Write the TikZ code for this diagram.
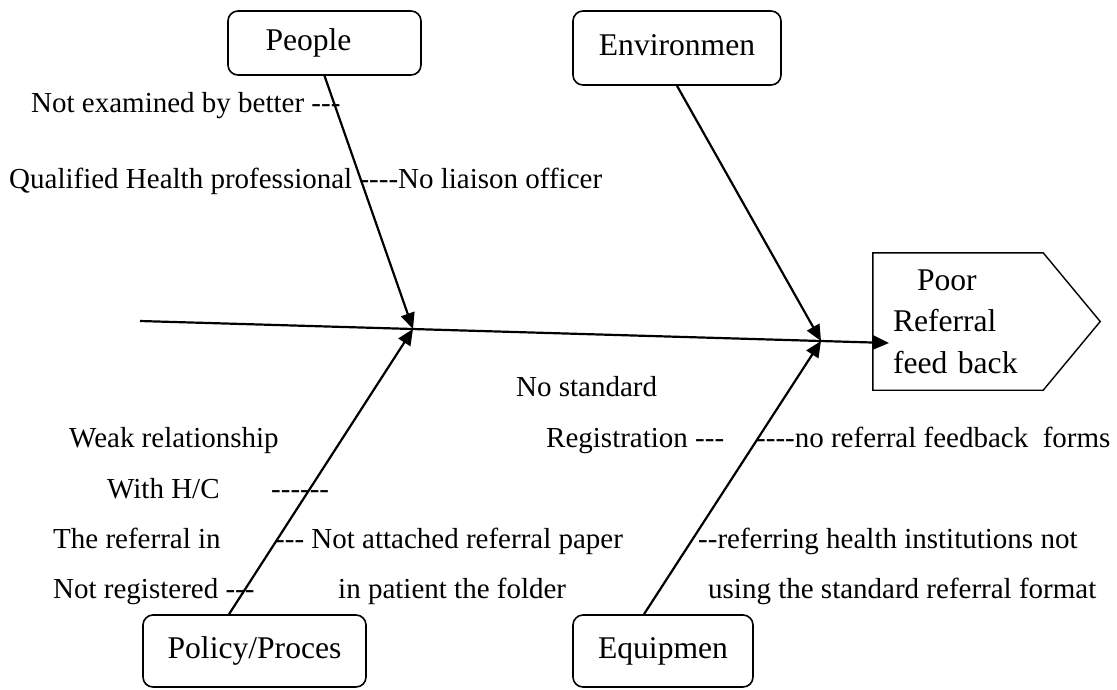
\documentclass[tikz,border=0pt]{standalone}
\usepackage{fontspec}
\setmainfont{Liberation Serif}[Ligatures=TeXOff]
\usetikzlibrary{arrows.meta}

\begin{document}
\begin{tikzpicture}[x=1pt, y=-1pt,
  cause/.style={draw, line width=1.6pt, rounded corners=10pt,
    font=\fontsize{31.6}{38}\selectfont, text height=21.5pt, text depth=7pt},
  note/.style={anchor=base west, inner sep=0pt, font=\fontsize{29}{35}\selectfont},
  bone/.style={line width=2.2pt, -{Triangle[length=16pt,width=14pt]}}]

\useasboundingbox (0,0) rectangle (1117,689);

% the four causes
\node[cause, minimum width=193pt, minimum height=64pt] (people) at (324.5,43) {People\kern32pt};
\node[cause, minimum width=208pt, minimum height=74pt] (env) at (677,48) {Environmen};
\node[cause, minimum width=223pt, minimum height=72pt] (policy) at (254.5,651) {Policy/Proces};
\node[cause, minimum width=180pt, minimum height=72pt] (equip) at (663,651) {Equipmen};

% the effect
\node[align=left, text width=130pt, minimum width=170pt, minimum height=137pt, inner sep=0pt,
  font=\fontsize{31.6}{41.5}\selectfont] (effect) at (958,321.5)
  {\hspace*{24pt}Poor\\Referral\\feed back};
\draw[line width=1.4pt] (effect.north west) -- (effect.north east)
  -- ([xshift=57pt]effect.east) -- (effect.south east) -- (effect.south west) -- cycle;

% spine
\coordinate (tail) at (140,321);
\coordinate (j1) at (413,329);
\coordinate (j2) at (821,341);
\coordinate (head) at (889,343);
\draw[bone] (tail) -- (head);

% bones
\draw[bone] (people.south) -- (j1);
\draw[bone] (env.south) -- (j2);
\draw[bone] ([xshift=-25.5pt]policy.north) -- (j1);
\draw[bone] ([xshift=-19pt]equip.north) -- (j2);

% sub causes
\node[note] (n1) at (31,112) {Not examined by better ---};
\node[note] (n2) at (9,188) {Qualified Health professional ----No liaison officer};
\node[note] (n3) at (516,396) {No standard};
\node[note] (n4) at (69,447) {Weak relationship};
\node[note] (n5) at (546,447) {Registration ---};
\node[note] (n6) at (756,447) {----no referral feedback\ \ forms};
\node[note] (n7) at (107,498) {With H/C};
\node[note] (n8) at (271,498) {------};
\node[note] (n9) at (53,548) {The referral in};
\node[note] (n10) at (275,548) {--- Not attached referral paper};
\node[note] (n11) at (698,548) {--referring health institutions not};
\node[note] (n12) at (53,598) {Not registered ---};
\node[note] (n13) at (338,598) {in patient the folder};
\node[note] (n14) at (708,598) {using the standard referral format};

\end{tikzpicture}
\end{document}
